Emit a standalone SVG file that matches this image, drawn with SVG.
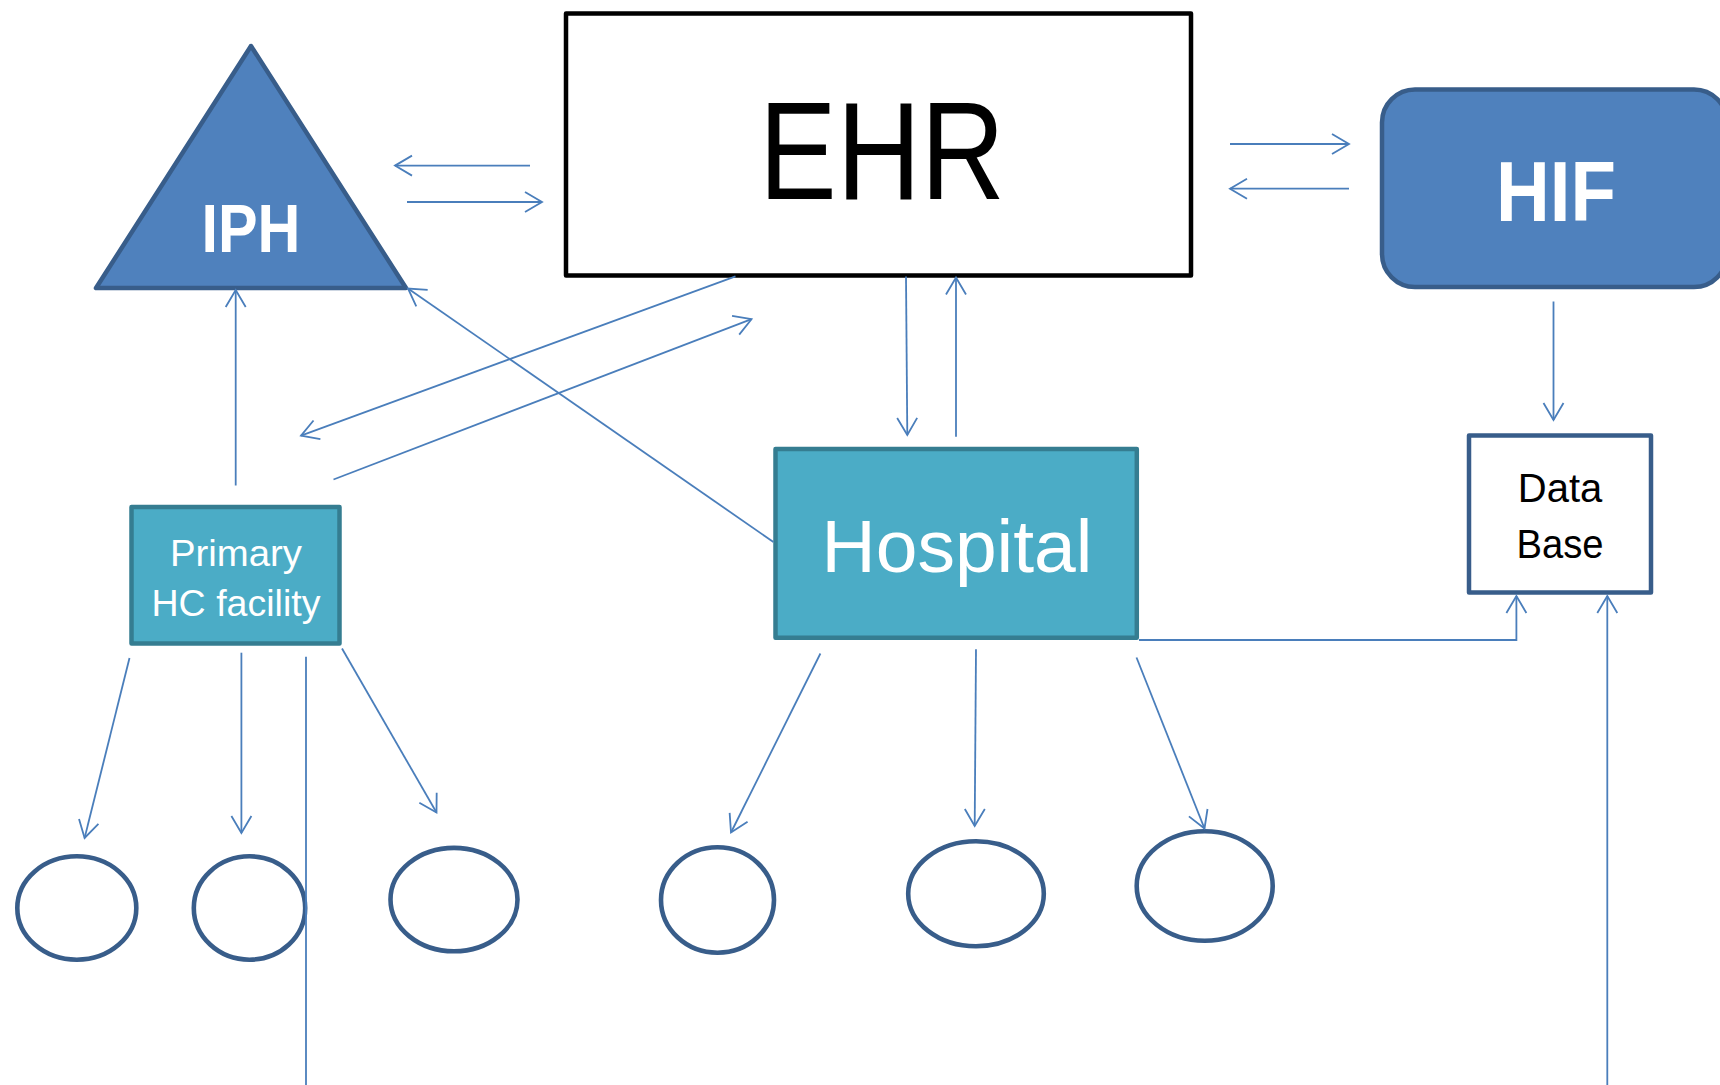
<svg xmlns="http://www.w3.org/2000/svg" width="1720" height="1085" viewBox="0 0 1720 1085">
<style>
.con{fill:none;stroke:#4A7EBB;stroke-width:1.8}
.arr{marker-end:url(#ah)}
.blue{fill:#4F81BD;stroke:#385D8A;stroke-width:4.5;stroke-linejoin:round}
.teal{fill:#4BACC6;stroke:#357D91;stroke-width:4.5;stroke-linejoin:round}
.circ{fill:#FFFFFF;stroke:#385D8A;stroke-width:4.6}
.t{font-family:"Liberation Sans",Arial,sans-serif;text-anchor:middle}
.w{fill:#FFFFFF}
.b{font-weight:bold}
</style>
<defs>
<marker id="ah" markerUnits="userSpaceOnUse" viewBox="-20 -12 22 24" markerWidth="22" markerHeight="24" refX="0" refY="0" orient="auto" overflow="visible">
<path d="M-17,-10 L0,0 L-17,10" fill="none" stroke="#4A7EBB" stroke-width="1.8"/>
</marker>
</defs>
<rect width="1720" height="1085" fill="#FFFFFF"/>
<g id="IPH">
<polygon class="blue" points="251,46 96,288 406,288"/>
<text class="t w b" x="251" y="252" font-size="68" textLength="99" lengthAdjust="spacingAndGlyphs">IPH</text>
</g>
<g id="EHR">
<rect x="566" y="13.5" width="625" height="262" fill="#FFFFFF" stroke="#000000" stroke-width="4.5" stroke-linejoin="round"/>
<text class="t" x="882" y="199" font-size="140" textLength="246" lengthAdjust="spacingAndGlyphs" fill="#000000">EHR</text>
</g>
<g id="HIF">
<rect class="blue" x="1382" y="89.5" width="345" height="197.5" rx="33" ry="33"/>
<text class="t w b" x="1556" y="221" font-size="85" textLength="120" lengthAdjust="spacingAndGlyphs">HIF</text>
</g>
<g id="DataBase">
<rect x="1469" y="435.5" width="182" height="157" fill="#FFFFFF" stroke="#385D8A" stroke-width="4.5" stroke-linejoin="round"/>
<text class="t" x="1560" y="502" font-size="40" fill="#000000">Data</text>
<text class="t" x="1560" y="558" font-size="40" fill="#000000" textLength="87" lengthAdjust="spacingAndGlyphs">Base</text>
</g>
<g id="PrimaryHC">
<rect class="teal" x="131.5" y="507" width="208" height="136.5"/>
<text class="t w" x="236" y="565.5" font-size="37" textLength="132" lengthAdjust="spacingAndGlyphs">Primary</text>
<text class="t w" x="236" y="616" font-size="37" textLength="169" lengthAdjust="spacingAndGlyphs">HC facility</text>
</g>
<g id="Hospital">
<rect class="teal" x="775.5" y="449" width="361.3" height="188.7"/>
<text class="t w" x="957" y="572" font-size="75">Hospital</text>
</g>
<g id="circles">
<ellipse id="c1" class="circ" cx="76.8" cy="908" rx="59.5" ry="51.7"/>
<ellipse id="c2" class="circ" cx="249.5" cy="908" rx="55.7" ry="51.7"/>
<ellipse id="c3" class="circ" cx="454" cy="899.6" rx="63.5" ry="51.7"/>
<ellipse id="c4" class="circ" cx="717.5" cy="900" rx="56.5" ry="52.7"/>
<ellipse id="c5" class="circ" cx="976" cy="893.8" rx="67.8" ry="52.5"/>
<ellipse id="c6" class="circ" cx="1204.7" cy="886" rx="68" ry="54.7"/>
</g>
<g id="connectors">
<path class="con arr" d="M530,165.6 L395,165.6"/>
<path class="con arr" d="M407,202 L542,202"/>
<path class="con arr" d="M1230,144 L1349,144"/>
<path class="con arr" d="M1349,188.7 L1230,188.7"/>
<path class="con arr" d="M1553.5,301.5 L1553.5,420"/>
<path class="con arr" d="M906,276.5 L907.3,435"/>
<path class="con arr" d="M956,436.7 L956,277.5"/>
<path class="con arr" d="M773.4,542 L408,288.5"/>
<path class="con arr" d="M735.5,276.4 L301,435.7"/>
<path class="con arr" d="M333.5,479.5 L751.5,319.2"/>
<path class="con arr" d="M235.7,485.5 L235.7,290"/>
<path class="con arr" d="M129.5,658 L84.6,838"/>
<path class="con arr" d="M241.4,652.7 L241.4,833"/>
<path class="con" d="M306,656.7 L306,1085"/>
<path class="con arr" d="M342,648.5 L436.5,812.5"/>
<path class="con arr" d="M820.4,653.5 L731,832.5"/>
<path class="con arr" d="M976,649.3 L974.7,826"/>
<path class="con arr" d="M1136.5,657.5 L1204.5,828.5"/>
<path class="con arr" d="M1139,640 L1516.4,640 L1516.4,596"/>
<path class="con arr" d="M1607.3,1085 L1607.3,596"/>
</g>
</svg>
